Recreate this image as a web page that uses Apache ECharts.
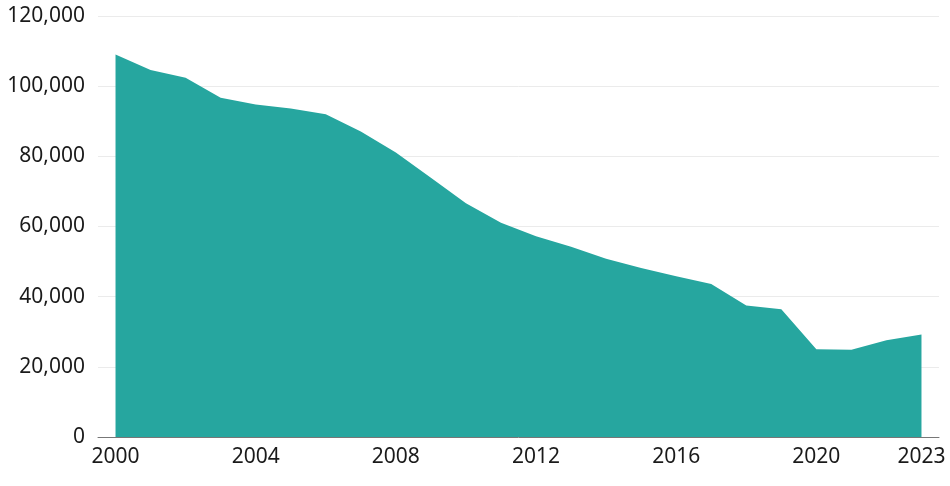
<!DOCTYPE html>
<html>
<head>
<meta charset="utf-8">
<script src="https://cdn.jsdelivr.net/npm/echarts@6/dist/echarts.min.js"></script>
<style>
  html, body { margin: 0; padding: 0; background: #fff; }
  #chart { width: 950px; height: 486px; }
</style>
</head>
<body>
<div id="chart"></div>
<script>
(function() {
    // years on the x axis
    var years = ['2000', '2001', '2002', '2003', '2004', '2005', '2006', '2007',
        '2008', '2009', '2010', '2011', '2012', '2013', '2014', '2015',
        '2016', '2017', '2018', '2019', '2020', '2021', '2022', '2023'];

    // values
    var values = [109000, 104600, 102400, 96700, 94800, 93600, 92000, 87100,
        81100, 73900, 66600, 61100, 57200, 54200, 50800, 48200,
        45800, 43600, 37500, 36400, 25000, 24900, 27600, 29200];

    // which year labels are shown
    var shownLabels = ['2000', '2004', '2008', '2012', '2016', '2020', '2023'];

    var myChart = echarts.init(document.getElementById('chart'));

    var option = {
        animation: false,
        grid: { left: 98, right: 11, top: 16, bottom: 49 },
        xAxis: {
            type: 'category',
            data: years,
            boundaryGap: true,
            axisLine: { show: true, lineStyle: { color: '#777', width: 1 } },
            axisTick: { show: false },
            axisLabel: {
                interval: function(idx, val) { return shownLabels.indexOf(val) >= 0; },
                color: '#1a1a1a',
                fontFamily: 'Noto Sans',
                fontSize: 21,
                margin: 10
            },
            splitLine: { show: false }
        },
        yAxis: {
            type: 'value',
            min: 0,
            max: 120000,
            interval: 20000,
            axisLine: { show: false },
            axisTick: { show: false },
            axisLabel: {
                color: '#1a1a1a',
                fontFamily: 'Noto Sans',
                fontSize: 21,
                margin: 13,
                formatter: function(v) { return v.toLocaleString('en-US'); }
            },
            splitLine: { lineStyle: { color: '#ebebeb', width: 1 } }
        },
        series: [{
            type: 'line',
            data: values,
            symbol: 'none',
            lineStyle: { width: 0 },
            areaStyle: { color: '#26a69f', opacity: 1 }
        }]
    };
    myChart.setOption(option);
})();
</script>
</body>
</html>
